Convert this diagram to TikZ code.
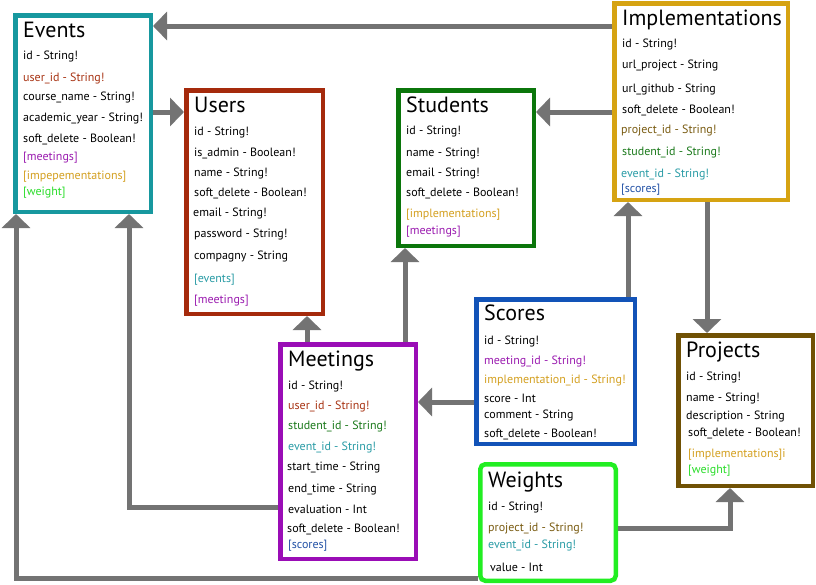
\documentclass[tikz,border=0pt]{standalone}
\usepackage{fontspec}
\setmainfont{PT Sans}
\usetikzlibrary{arrows.meta}
\definecolor{cEv}{HTML}{17989F}
\definecolor{tEv}{HTML}{2A9CA6}
\definecolor{cUs}{HTML}{A52A0C}
\definecolor{tUs}{HTML}{A83414}
\definecolor{cSt}{HTML}{0B760B}
\definecolor{tSt}{HTML}{1C7A1C}
\definecolor{cIm}{HTML}{D6A312}
\definecolor{tIm}{HTML}{D4A020}
\definecolor{cSc}{HTML}{1253B8}
\definecolor{tSc}{HTML}{2352A6}
\definecolor{cMe}{HTML}{9A0DB6}
\definecolor{tMe}{HTML}{9B1CB0}
\definecolor{cPr}{HTML}{705104}
\definecolor{tPr}{HTML}{7A5C12}
\definecolor{cWe}{HTML}{22EE22}
\definecolor{tWe}{HTML}{2BDD2B}
\definecolor{cLn}{HTML}{737373}
\tikzset{
  box/.style={draw=#1, line width=4.5pt, fill=white, inner sep=0pt},
  t/.style={anchor=base west, inner sep=0pt, font=\fontsize{12}{14}\selectfont},
  ttl/.style={anchor=base west, inner sep=0pt, font=\fontsize{22}{24}\selectfont},
  conn/.style={draw=cLn, line width=5pt, -{Triangle[width=28pt,length=14pt]}},
}
\begin{document}
\begin{tikzpicture}[x=1pt,y=-1pt]
\useasboundingbox (0,0) rectangle (816,584);
\fill[white] (0,0) rectangle (816,584);
% boxes
\node[box=cEv, minimum width=135.5pt, minimum height=196.5pt] (events) at (83,113.5) {};
\node[box=cUs, minimum width=136.5pt, minimum height=223.5pt] (users) at (254.5,202) {};
\node[box=cSt, minimum width=135.5pt, minimum height=155.5pt] (students) at (466,168) {};
\node[box=cIm, minimum width=173.5pt, minimum height=196.5pt] (impl) at (701,101.5) {};
\node[box=cSc, minimum width=158.5pt, minimum height=144.5pt] (scores) at (555.5,371.5) {};
\node[box=cMe, minimum width=135.5pt, minimum height=214.5pt] (meetings) at (348,451.5) {};
\node[box=cPr, minimum width=134.5pt, minimum height=150.5pt] (projects) at (745.5,410.5) {};
\node[box=cWe, rounded corners=5pt, minimum width=135.5pt, minimum height=116.5pt] (weights) at (548,522.5) {};
% connectors
\draw[conn] (impl.west |- 0,26) -- (events.east |- 0,26);
\draw[conn] (events.east |- 0,112) -- (users.west |- 0,112);
\draw[conn] (impl.west |- 0,112) -- (students.east |- 0,112);
\draw[conn] (impl.south -| 707,0) -- (projects.north -| 707,0);
\draw[conn] (scores.north -| 628,0) -- (impl.south -| 628,0);
\draw[conn] (scores.west |- 0,402) -- (meetings.east |- 0,402);
\draw[conn] (meetings.north -| 307,0) -- (users.south -| 307,0);
\draw[conn] (meetings.north -| 405,0) -- (students.south -| 405,0);
\draw[conn] (meetings.west |- 0,507) -| (events.south -| 129,0);
\draw[conn] (weights.west |- 0,578) -| (events.south -| 16,0);
\draw[conn] (weights.east |- 0,528) -| (projects.south -| 730,0);
% Events
\node[ttl] (ev0) at (23,37) {Events};
\node[t] (ev1) at (23,59) {id - String!};
\node[t, text=tUs] (ev2) at (23,81) {user\_id - String!};
\node[t] (ev3) at (23,100) {course\_name - String!};
\node[t] (ev4) at (23,121) {academic\_year - String!};
\node[t] (ev5) at (23,142) {soft\_delete - Boolean!};
\node[t, text=tMe] (ev6) at (23,160) {[meetings]};
\node[t, text=tIm] (ev7) at (23,179) {[impepementations]};
\node[t, text=tWe] (ev8) at (23,195) {[weight]};
% Users
\node[ttl] (us0) at (194,112) {Users};
\node[t] (us1) at (194,135) {id - String!};
\node[t] (us2) at (194,156) {is\_admin - Boolean!};
\node[t] (us3) at (194,176) {name - String!};
\node[t] (us4) at (194,196) {soft\_delete - Boolean!};
\node[t] (us5) at (193,216) {email - String!};
\node[t] (us6) at (194,237) {password - String!};
\node[t] (us7) at (194,259) {compagny - String};
\node[t, text=tEv] (us8) at (194,282) {[events]};
\node[t, text=tMe] (us9) at (194,303) {[meetings]};
% Students
\node[ttl] (st0) at (406,112) {Students};
\node[t] (st1) at (406,134) {id - String!};
\node[t] (st2) at (406,156) {name - String!};
\node[t] (st3) at (406,176) {email - String!};
\node[t] (st4) at (406,196) {soft\_delete - Boolean!};
\node[t, text=tIm] (st5) at (406,217) {[implementations]};
\node[t, text=tMe] (st6) at (406,234) {[meetings]};
% Implementations
\node[ttl] (im0) at (622,25) {Implementations};
\node[t] (im1) at (622,47) {id - String!};
\node[t] (im2) at (622,68) {url\_project - String};
\node[t] (im3) at (622,92) {url\_github - String};
\node[t] (im4) at (622,113) {soft\_delete - Boolean!};
\node[t, text=tPr] (im5) at (621,133) {project\_id - String!};
\node[t, text=tSt] (im6) at (622,155) {student\_id - String!};
\node[t, text=tEv] (im7) at (621,177) {event\_id - String!};
\node[t, text=tSc] (im8) at (621,192) {[scores]};
% Scores
\node[ttl] (sc0) at (484,320) {Scores};
\node[t] (sc1) at (484,344) {id - String!};
\node[t, text=tMe] (sc2) at (484,364) {meeting\_id - String!};
\node[t, text=tIm] (sc3) at (484,383) {implementation\_id - String!};
\node[t] (sc4) at (484,402) {score - Int};
\node[t] (sc5) at (484,418) {comment - String};
\node[t] (sc6) at (484,437) {soft\_delete - Boolean!};
% Meetings
\node[ttl] (me0) at (288,366) {Meetings};
\node[t] (me1) at (288,389) {id - String!};
\node[t, text=tUs] (me2) at (288,409) {user\_id - String!};
\node[t, text=tSt] (me3) at (288,429) {student\_id - String!};
\node[t, text=tEv] (me4) at (288,450) {event\_id - String!};
\node[t] (me5) at (287,470) {start\_time - String};
\node[t] (me6) at (288,492) {end\_time - String};
\node[t] (me7) at (288,513) {evaluation - Int};
\node[t] (me8) at (287,532) {soft\_delete - Boolean!};
\node[t, text=tSc] (me9) at (288,548) {[scores]};
% Projects
\node[ttl] (pr0) at (686,357) {Projects};
\node[t] (pr1) at (686,380) {id - String!};
\node[t] (pr2) at (686,401) {name - String!};
\node[t] (pr3) at (686,419) {description - String};
\node[t] (pr4) at (688,436) {soft\_delete - Boolean!};
\node[t, text=tIm] (pr5) at (688,457) {[implementations]i};
\node[t, text=tWe] (pr6) at (688,473) {[weight]};
% Weights
\node[ttl] (we0) at (488,487) {Weights};
\node[t] (we1) at (488,510) {id - String!};
\node[t, text=tPr] (we2) at (488,531) {project\_id - String!};
\node[t, text=tEv] (we3) at (488,548) {event\_id - String!};
\node[t] (we4) at (490,571) {value - Int};
\end{tikzpicture}
\end{document}
